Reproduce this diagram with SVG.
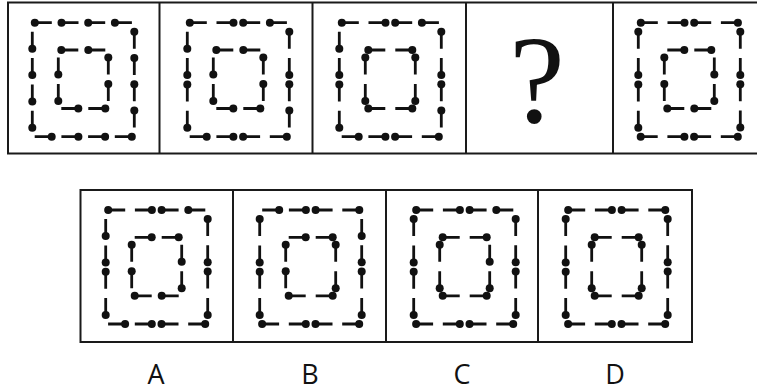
<svg xmlns="http://www.w3.org/2000/svg" xmlns:xlink="http://www.w3.org/1999/xlink" width="757" height="392" viewBox="0 0 757 392">
<style>
.frame{fill:none;stroke:#1a1a1a;stroke-width:2}
.seg{fill:none;stroke:#111;stroke-width:2.8}
.d{fill:#111}
.q{font-family:"Liberation Serif",serif;font-size:125px;fill:#111}
.lab{font-family:"Open Sans","Liberation Sans",sans-serif;font-size:27px;fill:#111}
</style>
<defs>
<path id="segs" class="seg" d="M2.5 0H19.5M29.2 0H46.2M55.9 0H72.9M82.6 0H99.6M102 9V26M102 35.3V52.3M102 61.6V78.6M102 87.9V104.9M99.5 114H82.5M72.8 114H55.8M46.1 114H29.1M19.4 114H2.4M0 105V88M0 78.7V61.7M0 52.4V35.4M0 26.1V9.1M29 27.3H46M56 27.3H73M76 34.8V51.8M76 61.3V78.3M73 85.8H56M46 85.8H29M26 78.3V61.3M26 51.8V34.8"/>
<circle id="S1" class="d" cx="2.5" cy="0" r="4"/><circle id="E1" class="d" cx="19.5" cy="0" r="4"/>
<circle id="S2" class="d" cx="29.2" cy="0" r="4"/><circle id="E2" class="d" cx="46.2" cy="0" r="4"/>
<circle id="S3" class="d" cx="55.9" cy="0" r="4"/><circle id="E3" class="d" cx="72.9" cy="0" r="4"/>
<circle id="S4" class="d" cx="82.6" cy="0" r="4"/><circle id="E4" class="d" cx="99.6" cy="0" r="4"/>
<circle id="S5" class="d" cx="102" cy="9" r="4"/><circle id="E5" class="d" cx="102" cy="26" r="4"/>
<circle id="S6" class="d" cx="102" cy="35.3" r="4"/><circle id="E6" class="d" cx="102" cy="52.3" r="4"/>
<circle id="S7" class="d" cx="102" cy="61.6" r="4"/><circle id="E7" class="d" cx="102" cy="78.6" r="4"/>
<circle id="S8" class="d" cx="102" cy="87.9" r="4"/><circle id="E8" class="d" cx="102" cy="104.9" r="4"/>
<circle id="S9" class="d" cx="99.5" cy="114" r="4"/><circle id="E9" class="d" cx="82.5" cy="114" r="4"/>
<circle id="S10" class="d" cx="72.8" cy="114" r="4"/><circle id="E10" class="d" cx="55.8" cy="114" r="4"/>
<circle id="S11" class="d" cx="46.1" cy="114" r="4"/><circle id="E11" class="d" cx="29.1" cy="114" r="4"/>
<circle id="S12" class="d" cx="19.4" cy="114" r="4"/><circle id="E12" class="d" cx="2.4" cy="114" r="4"/>
<circle id="S13" class="d" cx="0" cy="105" r="4"/><circle id="E13" class="d" cx="0" cy="88" r="4"/>
<circle id="S14" class="d" cx="0" cy="78.7" r="4"/><circle id="E14" class="d" cx="0" cy="61.7" r="4"/>
<circle id="S15" class="d" cx="0" cy="52.4" r="4"/><circle id="E15" class="d" cx="0" cy="35.4" r="4"/>
<circle id="S16" class="d" cx="0" cy="26.1" r="4"/><circle id="E16" class="d" cx="0" cy="9.1" r="4"/>
<circle id="s1" class="d" cx="29" cy="27.3" r="4"/><circle id="e1" class="d" cx="46" cy="27.3" r="4"/>
<circle id="s2" class="d" cx="56" cy="27.3" r="4"/><circle id="e2" class="d" cx="73" cy="27.3" r="4"/>
<circle id="s3" class="d" cx="76" cy="34.8" r="4"/><circle id="e3" class="d" cx="76" cy="51.8" r="4"/>
<circle id="s4" class="d" cx="76" cy="61.3" r="4"/><circle id="e4" class="d" cx="76" cy="78.3" r="4"/>
<circle id="s5" class="d" cx="73" cy="85.8" r="4"/><circle id="e5" class="d" cx="56" cy="85.8" r="4"/>
<circle id="s6" class="d" cx="46" cy="85.8" r="4"/><circle id="e6" class="d" cx="29" cy="85.8" r="4"/>
<circle id="s7" class="d" cx="26" cy="78.3" r="4"/><circle id="e7" class="d" cx="26" cy="61.3" r="4"/>
<circle id="s8" class="d" cx="26" cy="51.8" r="4"/><circle id="e8" class="d" cx="26" cy="34.8" r="4"/>
</defs>

<g id="frames">
<path class="frame" d="M760 2.5H8V153.5H760M159.5 2.5V153.5M312.5 2.5V153.5M466 2.5V153.5M613 2.5V153.5"/>
<path class="frame" d="M80.5 190H692V342H80.5ZM233 190V342M386 190V342M538 190V342"/>
</g>

<g id="panel1" transform="translate(32.3,22.7)">
<use href="#segs"/>
<use href="#S1"/><use href="#S2"/><use href="#S3"/><use href="#S4"/><use href="#S5"/><use href="#S6"/><use href="#S7"/><use href="#S8"/><use href="#S9"/><use href="#S10"/><use href="#S11"/><use href="#S12"/><use href="#S13"/><use href="#S14"/><use href="#S15"/><use href="#S16"/>
<use href="#s1"/><use href="#s2"/><use href="#s3"/><use href="#s4"/><use href="#s5"/><use href="#s6"/><use href="#s7"/><use href="#s8"/>
</g>

<g id="panel2" transform="translate(187.3,22.7)">
<use href="#segs"/>
<use href="#S1"/><use href="#E2"/><use href="#S3"/><use href="#S4"/><use href="#S5"/><use href="#E6"/><use href="#S7"/><use href="#S8"/><use href="#S9"/><use href="#E10"/><use href="#S11"/><use href="#S12"/><use href="#S13"/><use href="#E14"/><use href="#S15"/><use href="#S16"/>
<use href="#s1"/><use href="#s2"/><use href="#s3"/><use href="#s4"/><use href="#s5"/><use href="#s6"/><use href="#s7"/><use href="#s8"/>
</g>

<g id="panel3" transform="translate(339.3,22.7)">
<use href="#segs"/>
<use href="#S1"/><use href="#E2"/><use href="#S3"/><use href="#S4"/><use href="#S5"/><use href="#E6"/><use href="#S7"/><use href="#S8"/><use href="#S9"/><use href="#E10"/><use href="#S11"/><use href="#S12"/><use href="#S13"/><use href="#E14"/><use href="#S15"/><use href="#S16"/>
<use href="#s1"/><use href="#e2"/><use href="#s3"/><use href="#e4"/><use href="#s5"/><use href="#e6"/><use href="#s7"/><use href="#e8"/>
</g>

<g id="panel4">
<text class="q" x="537" y="122" text-anchor="middle">?</text>
</g>

<g id="panel5" transform="translate(638.3,22.7)">
<use href="#segs"/>
<use href="#S1"/><use href="#E2"/><use href="#S3"/><use href="#E4"/><use href="#S5"/><use href="#E6"/><use href="#S7"/><use href="#E8"/><use href="#S9"/><use href="#E10"/><use href="#S11"/><use href="#E12"/><use href="#S13"/><use href="#E14"/><use href="#S15"/><use href="#E16"/>
<use href="#e1"/><use href="#e2"/><use href="#e3"/><use href="#e4"/><use href="#e5"/><use href="#e6"/><use href="#e7"/><use href="#e8"/>
</g>

<g id="optionA" transform="translate(105.7,210)">
<use href="#segs"/>
<use href="#S1"/><use href="#E2"/><use href="#S3"/><use href="#S4"/><use href="#S5"/><use href="#E6"/><use href="#S7"/><use href="#E8"/><use href="#S9"/><use href="#E10"/><use href="#S11"/><use href="#S12"/><use href="#S13"/><use href="#E14"/><use href="#S15"/><use href="#S16"/>
<use href="#e1"/><use href="#e2"/><use href="#e3"/><use href="#e4"/><use href="#e5"/><use href="#e6"/><use href="#e7"/><use href="#e8"/>
</g>

<g id="optionB" transform="translate(259.7,210)">
<use href="#segs"/>
<use href="#E1"/><use href="#E2"/><use href="#S3"/><use href="#E4"/><use href="#E5"/><use href="#E6"/><use href="#S7"/><use href="#E8"/><use href="#S9"/><use href="#E10"/><use href="#S11"/><use href="#E12"/><use href="#S13"/><use href="#E14"/><use href="#S15"/><use href="#E16"/>
<use href="#e1"/><use href="#e2"/><use href="#s3"/><use href="#e4"/><use href="#s5"/><use href="#e6"/><use href="#e7"/><use href="#e8"/>
</g>

<g id="optionC" transform="translate(413.7,210)">
<use href="#segs"/>
<use href="#S1"/><use href="#E2"/><use href="#S3"/><use href="#S4"/><use href="#S5"/><use href="#E6"/><use href="#S7"/><use href="#E8"/><use href="#S9"/><use href="#E10"/><use href="#S11"/><use href="#E12"/><use href="#S13"/><use href="#E14"/><use href="#S15"/><use href="#E16"/>
<use href="#s1"/><use href="#e2"/><use href="#e3"/><use href="#e4"/><use href="#s5"/><use href="#e6"/><use href="#s7"/><use href="#e8"/>
</g>

<g id="optionD" transform="translate(565.7,210)">
<use href="#segs"/>
<use href="#S1"/><use href="#E2"/><use href="#S3"/><use href="#E4"/><use href="#S5"/><use href="#E6"/><use href="#S7"/><use href="#E8"/><use href="#S9"/><use href="#E10"/><use href="#S11"/><use href="#E12"/><use href="#S13"/><use href="#E14"/><use href="#S15"/><use href="#E16"/>
<use href="#s1"/><use href="#e2"/><use href="#s3"/><use href="#e4"/><use href="#s5"/><use href="#e6"/><use href="#s7"/><use href="#e8"/>
</g>

<g id="labels">
<text class="lab" x="156" y="384" text-anchor="middle">A</text>
<text class="lab" x="310" y="384" text-anchor="middle">B</text>
<text class="lab" x="462" y="384" text-anchor="middle">C</text>
<text class="lab" x="615" y="384" text-anchor="middle">D</text>
</g>
</svg>
